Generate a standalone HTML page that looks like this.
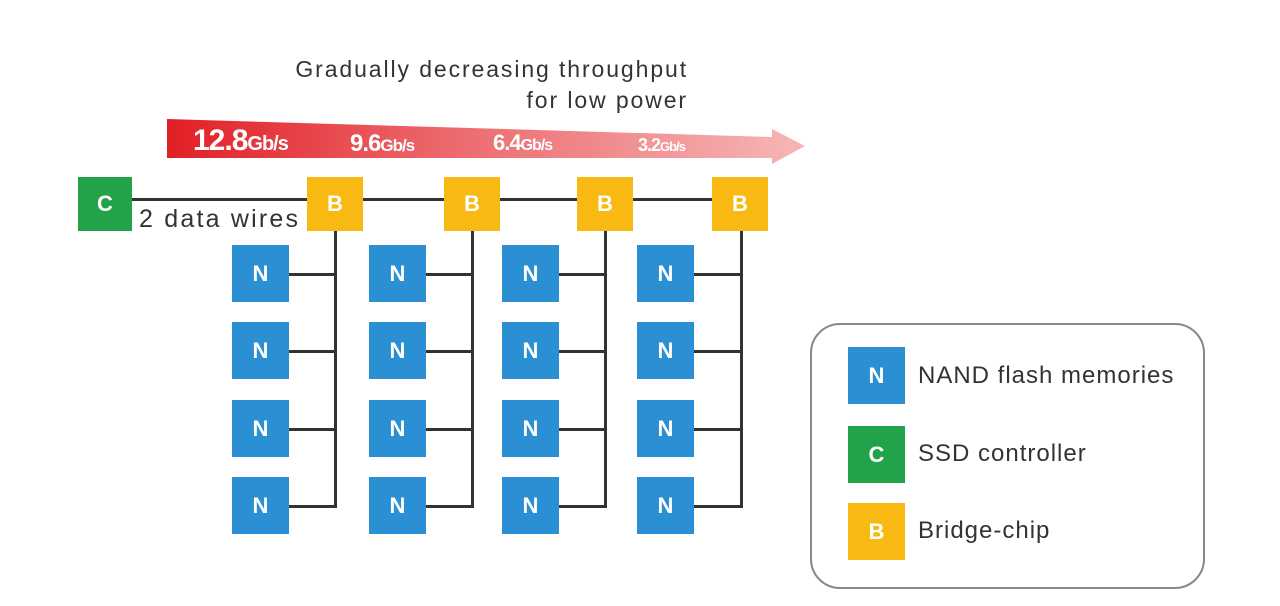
<!DOCTYPE html>
<html><head><style>
body{margin:0;width:1280px;height:606px;background:#fff;position:relative;overflow:hidden;font-family:"Liberation Sans",sans-serif}
.b{position:absolute;color:#fff;font-weight:bold;display:flex;align-items:center;justify-content:center;font-size:22px}
.n{background:#2b8fd4;width:57px;height:57px}
.y{background:#f7b912;width:56px;height:54px}
.g{background:#22a34a;width:54px;height:54px}
.l{position:absolute;background:#333}
.t{position:absolute;color:#333;font-size:24px;white-space:nowrap}
.r{position:absolute;color:#fff;font-weight:bold;letter-spacing:-1px}
</style></head><body>
<div class="t" style="right:592px;top:56px;font-size:23px;letter-spacing:1.9px">Gradually decreasing throughput</div>
<div class="t" style="right:592px;top:87px;font-size:23px;letter-spacing:1.9px">for low power</div>
<svg style="position:absolute;left:0;top:0" width="1280" height="606">
<defs><linearGradient id="a" x1="0" x2="1"><stop offset="0" stop-color="#e11f26"/><stop offset="0.45" stop-color="#ec6a6e"/><stop offset="1" stop-color="#f6b7b7"/></linearGradient></defs>
<polygon points="167,119 772,137 772,129 805,146 772,164 772,158 167,158" fill="url(#a)"/>
</svg>
<div class="r" style="left:193px;top:124px;font-size:30px">12.8<span style="font-size:20px">Gb/s</span></div>
<div class="r" style="left:350px;top:130px;font-size:24px">9.6<span style="font-size:17px">Gb/s</span></div>
<div class="r" style="left:493px;top:130px;font-size:22px">6.4<span style="font-size:16px">Gb/s</span></div>
<div class="r" style="left:638px;top:135px;font-size:18px">3.2<span style="font-size:13px">Gb/s</span></div>
<div class="l" style="left:130px;top:198px;width:620px;height:3px"></div>
<div class="b g" style="left:78px;top:177px">C</div>
<div class="t" style="left:139px;top:205px;font-size:25px;letter-spacing:2.2px">2 data wires</div>
<div class="b y" style="left:307px;top:177px">B</div>
<div class="b y" style="left:444px;top:177px">B</div>
<div class="b y" style="left:577px;top:177px">B</div>
<div class="b y" style="left:712px;top:177px">B</div>
<div class="l" style="left:334px;top:231px;width:3px;height:277px"></div>
<div class="l" style="left:471px;top:231px;width:3px;height:277px"></div>
<div class="l" style="left:604px;top:231px;width:3px;height:277px"></div>
<div class="l" style="left:740px;top:231px;width:3px;height:277px"></div>
<div class="l" style="left:288px;top:273px;width:48px;height:3px"></div>
<div class="l" style="left:288px;top:350px;width:48px;height:3px"></div>
<div class="l" style="left:288px;top:428px;width:48px;height:3px"></div>
<div class="l" style="left:288px;top:505px;width:48px;height:3px"></div>
<div class="l" style="left:425px;top:273px;width:48px;height:3px"></div>
<div class="l" style="left:425px;top:350px;width:48px;height:3px"></div>
<div class="l" style="left:425px;top:428px;width:48px;height:3px"></div>
<div class="l" style="left:425px;top:505px;width:48px;height:3px"></div>
<div class="l" style="left:558px;top:273px;width:48px;height:3px"></div>
<div class="l" style="left:558px;top:350px;width:48px;height:3px"></div>
<div class="l" style="left:558px;top:428px;width:48px;height:3px"></div>
<div class="l" style="left:558px;top:505px;width:48px;height:3px"></div>
<div class="l" style="left:693px;top:273px;width:48px;height:3px"></div>
<div class="l" style="left:693px;top:350px;width:48px;height:3px"></div>
<div class="l" style="left:693px;top:428px;width:48px;height:3px"></div>
<div class="l" style="left:693px;top:505px;width:48px;height:3px"></div>
<div class="b n" style="left:232px;top:245px">N</div><div class="b n" style="left:232px;top:322px">N</div><div class="b n" style="left:232px;top:400px">N</div><div class="b n" style="left:232px;top:477px">N</div>
<div class="b n" style="left:369px;top:245px">N</div><div class="b n" style="left:369px;top:322px">N</div><div class="b n" style="left:369px;top:400px">N</div><div class="b n" style="left:369px;top:477px">N</div>
<div class="b n" style="left:502px;top:245px">N</div><div class="b n" style="left:502px;top:322px">N</div><div class="b n" style="left:502px;top:400px">N</div><div class="b n" style="left:502px;top:477px">N</div>
<div class="b n" style="left:637px;top:245px">N</div><div class="b n" style="left:637px;top:322px">N</div><div class="b n" style="left:637px;top:400px">N</div><div class="b n" style="left:637px;top:477px">N</div>
<div style="position:absolute;left:810px;top:323px;width:391px;height:262px;border:2px solid #888;border-radius:30px"></div>
<div class="b n" style="left:848px;top:347px">N</div>
<div class="b g" style="left:848px;top:426px;width:57px;height:57px">C</div>
<div class="b y" style="left:848px;top:503px;width:57px;height:57px">B</div>
<div class="t" style="left:918px;top:362px;letter-spacing:1px">NAND flash memories</div>
<div class="t" style="left:918px;top:440px;letter-spacing:1px">SSD controller</div>
<div class="t" style="left:918px;top:517px;letter-spacing:1px">Bridge-chip</div>
</body></html>
